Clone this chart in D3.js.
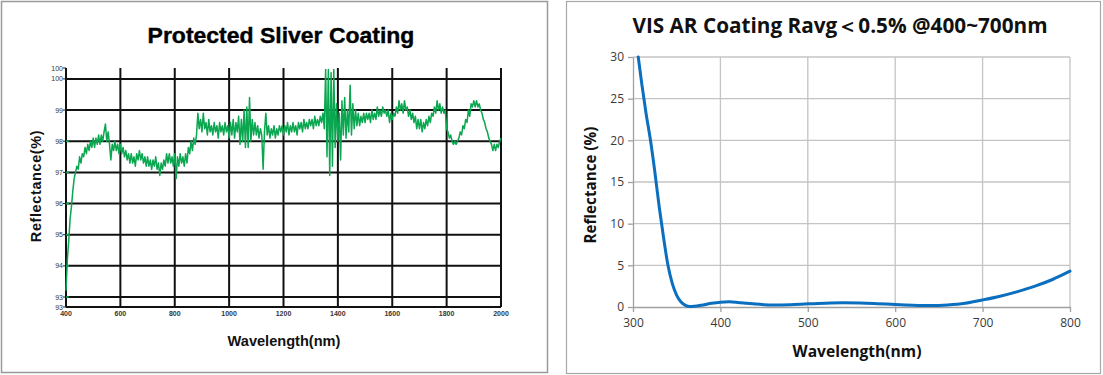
<!DOCTYPE html>
<html><head><meta charset="utf-8">
<script src="https://cdn.jsdelivr.net/npm/d3@7/dist/d3.min.js"></script>
<style>body{margin:0;background:#fff} svg{display:block}</style>
</head><body>
<svg id="c" width="1103" height="375"></svg>
<script>
// ---------- Left chart data: Protected Silver Coating ----------
const silverTitle = "Protected Sliver Coating";
const silverStartNm = 400, silverStepNm = 5;
const silverR = [
 93.2,94.2,94.8,95.5,95.9,96.4,96.8,97.0,97.2,97.1,97.5,97.3,97.6,97.5,97.8,97.6,97.9,97.7,98.0,97.8,
 98.1,97.8,98.1,97.9,98.2,97.9,98.2,98.0,98.3,98.55,98.0,98.3,97.9,97.4,97.9,97.7,98.0,97.7,97.9,97.6,
 97.9,97.6,97.8,97.5,97.7,97.4,97.6,97.3,97.6,97.3,97.5,97.2,97.6,97.4,97.7,97.4,97.6,97.3,97.5,97.2,
 97.5,97.2,97.4,97.1,97.4,97.2,97.5,97.1,97.3,96.9,97.3,97.1,97.4,97.2,97.6,97.3,97.6,97.3,97.5,97.2,
 97.6,96.8,97.5,97.2,97.6,97.3,97.5,97.2,97.6,97.3,97.8,97.6,98.0,97.7,98.1,97.9,98.2,98.9,98.4,98.7,
 98.3,98.9,98.4,98.6,98.2,98.7,98.3,98.5,98.2,98.6,98.3,98.5,98.1,98.6,98.3,98.5,98.2,98.6,98.3,98.5,
 98.1,98.6,98.2,98.7,98.1,98.6,98.3,98.8,97.9,98.7,98.0,99.0,97.8,99.1,97.8,99.4,98.0,98.7,98.2,98.6,
 98.2,98.5,98.1,98.4,98.2,97.1,98.3,98.9,98.2,98.5,98.1,98.4,98.2,98.5,98.1,98.4,98.2,98.5,98.3,98.5,
 98.2,98.5,98.3,98.6,98.2,98.5,98.3,98.6,98.3,98.5,98.2,98.6,98.4,98.6,98.3,98.7,98.4,98.6,98.4,98.7,
 98.5,98.7,98.4,98.8,98.5,98.7,98.5,98.8,98.6,98.9,98.4,100.3,97.5,100.3,96.9,100.2,97.2,100.3,97.8,99.2,
 98.0,98.9,97.4,99.3,98.2,99.4,98.1,99.0,98.3,99.8,98.2,99.2,98.4,99.0,98.5,98.9,98.5,98.8,98.6,98.9,
 98.6,98.9,98.7,98.9,98.6,99.0,98.7,98.9,98.7,99.1,98.8,99.0,98.8,99.1,98.9,99.0,98.8,99.0,98.6,98.9,
 98.7,98.9,98.8,99.1,98.9,99.3,99.0,99.2,98.9,99.3,99.0,99.1,98.8,99.0,98.7,98.9,98.6,98.8,98.4,98.7,
 98.4,98.7,98.3,98.6,98.4,98.7,98.5,98.8,98.6,98.9,98.8,99.1,98.9,99.3,99.0,99.2,98.9,99.1,98.9,99.0,
 98.4,98.3,98.1,98.2,98.0,97.9,98.0,97.9,98.0,98.1,98.3,98.2,98.5,98.4,98.7,98.6,99.0,98.8,99.2,99.1,
 99.3,99.1,99.3,99.1,99.2,99.0,98.9,98.7,98.6,98.4,98.3,98.1,98.0,97.9,97.7,97.9,97.7,97.9,97.8,98.0,
 98.1
];
const silverXTicks = [400,600,800,1000,1200,1400,1600,1800,2000];
const silverYTicks = [93,94,95,96,97,98,99,100];
const silverYDomain = [92.68, 100.35];
const silverXLabel = "Wavelength(nm)";
const silverYLabel = "Reflectance(%)";

// ---------- Right chart data: VIS AR Coating ----------
const arTitle = "VIS AR Coating Ravg\uFF1C0.5% @400~700nm";
const arNm = [306,310,315,320,325,330,335,340,345,350,355,360,365,370,380,390,400,410,420,430,440,450,460,480,500,520,540,560,580,600,620,640,660,680,700,720,740,760,780,800];
const arR  = [30,26.8,23.2,20,16.2,12,8.3,5,2.8,1.4,0.6,0.2,0.05,0.08,0.25,0.45,0.58,0.62,0.55,0.45,0.35,0.28,0.25,0.28,0.38,0.46,0.5,0.48,0.4,0.3,0.22,0.18,0.25,0.45,0.85,1.3,1.85,2.5,3.3,4.3];
const arXTicks = [300,400,500,600,700,800];
const arYTicks = [0,5,10,15,20,25,30];
const arXLabel = "Wavelength(nm)";
const arYLabel = "Reflectance (%)";

const svg = d3.select('#c');
function fit(t, w){ const l = t.node().getComputedTextLength(); const fs = parseFloat(t.attr('font-size')); t.attr('font-size', fs*w/l); }

// ================= LEFT PANEL =================
svg.append('rect').attr('x',1.5).attr('y',1.5).attr('width',546).attr('height',371)
  .attr('fill','#fff').attr('stroke','#9a9a9a').attr('stroke-width',1.5);
const xL = d3.scaleLinear().domain([400,2000]).range([66,501]);
const yL = d3.scaleLinear().domain(silverYDomain).range([307,68]);
const gL = svg.append('g');
// horizontal grid
gL.selectAll('line.h').data(silverYTicks).join('line')
  .attr('x1',xL(400)).attr('x2',xL(2000)).attr('y1',d=>yL(d)).attr('y2',d=>yL(d))
  .attr('stroke','#111').attr('stroke-width',2);
// bottom axis line
gL.append('line').attr('x1',xL(400)).attr('x2',xL(2000)).attr('y1',yL(silverYDomain[0])).attr('y2',yL(silverYDomain[0]))
  .attr('stroke','#111').attr('stroke-width',2);
// vertical grid
gL.selectAll('line.v').data(silverXTicks).join('line')
  .attr('x1',d=>xL(d)).attr('x2',d=>xL(d)).attr('y1',yL(silverYDomain[0])).attr('y2',yL(silverYDomain[1]))
  .attr('stroke','#111').attr('stroke-width',2);
// y tick labels (including end labels)
const yLabelVals = [silverYDomain[1]].concat(silverYTicks.slice().reverse()).concat([silverYDomain[0]]);
const gLabels = svg.append('g').attr('opacity',0.99);
gLabels.selectAll('text.yt').data(yLabelVals).join('text')
  .attr('x',63).attr('y',d=>yL(d)+2.5).attr('text-anchor','end')
  .attr('font-family','Liberation Sans, Arial, sans-serif').attr('font-size',7).attr('fill','#333')
  .text(d=>Math.round(d));
gL.selectAll('line.yt').data(yLabelVals).join('line')
  .attr('x1',63).attr('x2',66).attr('y1',d=>yL(d)).attr('y2',d=>yL(d)).attr('stroke','#222').attr('stroke-width',1);
// small green tick marks
gL.selectAll('line.gt').data([93,94,95,96,97,98]).join('line')
  .attr('x1',66).attr('x2',69).attr('y1',d=>yL(d)).attr('y2',d=>yL(d)).attr('stroke','#0aa650').attr('stroke-width',1.5);
// x tick labels
gLabels.selectAll('text.xt').data(silverXTicks).join('text')
  .attr('x',d=>xL(d)).attr('y',316).attr('text-anchor','middle')
  .attr('font-family','Liberation Sans, Arial, sans-serif').attr('font-size',7).attr('font-weight','bold').attr('fill','#333')
  .text(d=>d);
// line
const silverPts = silverR.map((r,i)=>[silverStartNm + i*silverStepNm, r]);
gL.append('path').datum(silverPts)
  .attr('d', d3.line().x(d=>xL(d[0])).y(d=>yL(d[1])))
  .attr('fill','none').attr('stroke','#0aa650').attr('stroke-width',1.5).attr('stroke-linejoin','round');
// titles
const tL = svg.append('text').attr('x',281).attr('y',43).attr('text-anchor','middle')
  .attr('font-family','Liberation Sans, Arial, sans-serif').attr('font-weight','bold').attr('font-size',23).attr('fill','#000')
  .attr('stroke','#000').attr('stroke-width',0.4)
  .text(silverTitle);
fit(tL, 267);
const xlL = svg.append('text').attr('x',284).attr('y',346).attr('text-anchor','middle')
  .attr('font-family','Liberation Sans, Arial, sans-serif').attr('font-weight','bold').attr('font-size',14.5).attr('fill','#111')
  .text(silverXLabel);
fit(xlL, 113);
const ylL = svg.append('text').attr('transform','translate(41,186) rotate(-90)').attr('text-anchor','middle')
  .attr('font-family','Liberation Sans, Arial, sans-serif').attr('font-weight','bold').attr('font-size',14.5).attr('fill','#111')
  .attr('letter-spacing',0.6)
  .text(silverYLabel);

// ================= RIGHT PANEL =================
svg.append('rect').attr('x',566.5).attr('y',1.5).attr('width',534).attr('height',372)
  .attr('fill','#fff').attr('stroke','#a8a8a8').attr('stroke-width',1.2).lower();
const xR = d3.scaleLinear().domain([300,800]).range([633,1070]);
const yR = d3.scaleLinear().domain([0,30]).range([307,57]);
const gR = svg.append('g');
gR.selectAll('line.h').data(arYTicks.slice(1)).join('line')
  .attr('x1',xR(300)).attr('x2',xR(800)).attr('y1',d=>yR(d)).attr('y2',d=>yR(d))
  .attr('stroke','#c4c4c4').attr('stroke-width',1.3);
gR.selectAll('line.v').data(arXTicks.slice(1)).join('line')
  .attr('x1',d=>xR(d)).attr('x2',d=>xR(d)).attr('y1',yR(0)).attr('y2',yR(30))
  .attr('stroke','#c4c4c4').attr('stroke-width',1.3);
const axL = gR.append('g').attr('transform',`translate(${xR(300)},0)`)
  .call(d3.axisLeft(yR).tickValues(arYTicks).tickSize(5).tickPadding(4).tickSizeOuter(0));
const axB = gR.append('g').attr('transform',`translate(0,${yR(0)})`)
  .call(d3.axisBottom(xR).tickValues(arXTicks).tickSize(5).tickPadding(6).tickSizeOuter(0));
[axL, axB].forEach(a=>{
  a.select('.domain').attr('stroke','#a0a0a0').attr('stroke-width',1.3);
  a.selectAll('.tick line').attr('stroke','#a0a0a0').attr('stroke-width',1.3);
  a.selectAll('.tick text').attr('font-family','Open Sans, sans-serif').attr('font-size',12).attr('fill','#3a3a3a');
});
const arPts = arNm.map((n,i)=>[n, arR[i]]);
gR.append('path').datum(arPts)
  .attr('d', d3.line().curve(d3.curveMonotoneX).x(d=>xR(d[0])).y(d=>yR(d[1])))
  .attr('fill','none').attr('stroke','#0b6fc0').attr('stroke-width',3).attr('stroke-linecap','round');
const tR = svg.append('text').attr('x',840).attr('y',33).attr('text-anchor','middle')
  .attr('font-family','Open Sans, sans-serif').attr('font-weight','bold').attr('font-size',20).attr('fill','#111')
  .text(arTitle);
fit(tR, 415);
const xlR = svg.append('text').attr('x',857).attr('y',357).attr('text-anchor','middle')
  .attr('font-family','Open Sans, sans-serif').attr('font-weight','bold').attr('font-size',15).attr('fill','#111')
  .text(arXLabel);
fit(xlR, 129);
const ylR = svg.append('text').attr('transform','translate(596,185) rotate(-90)').attr('text-anchor','middle')
  .attr('font-family','Open Sans, sans-serif').attr('font-weight','bold').attr('font-size',15).attr('fill','#111')
  .text(arYLabel);
fit(ylR, 117);
</script>
</body></html>
